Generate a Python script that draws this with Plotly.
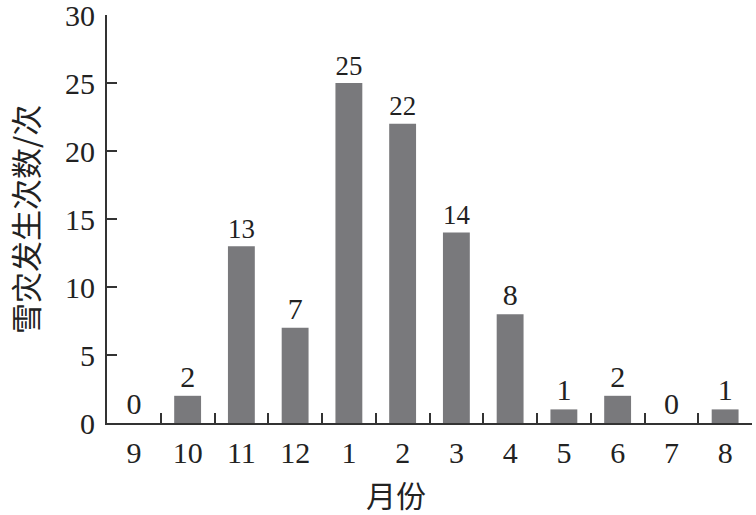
import plotly.graph_objects as go

months = ["9", "10", "11", "12", "1", "2", "3", "4", "5", "6", "7", "8"]
counts = [0, 2, 13, 7, 25, 22, 14, 8, 1, 2, 0, 1]
y_ticks = [0, 5, 10, 15, 20, 25, 30]

serif = "Liberation Serif, Times New Roman, serif"
cjk = "Noto Sans CJK SC"

fig = go.Figure(go.Bar(
    x=months, y=counts,
    marker=dict(color="#79797c", line=dict(width=0)),
    width=0.5,
    text=[str(v) for v in counts],
    textposition="outside",
    textfont=dict(family=serif, size=30, color="#222"),
    cliponaxis=False,
))

W, H = 756, 515
L, R, T, B = 107, 4, 15, 92
pw, ph = W - L - R, H - T - B

fig.update_layout(
    width=W, height=H,
    margin=dict(l=L, r=R, t=T, b=B),
    plot_bgcolor="white", paper_bgcolor="white",
    showlegend=False,
    xaxis=dict(
        type="category", range=[-0.5, 11.5], automargin=False,
        showline=True, linecolor="#333", linewidth=2,
        ticks="inside", tickson="boundaries", ticklen=10, tickwidth=2, tickcolor="#333",
        tickfont=dict(family=serif, size=30, color="#222"),
        ticklabelstandoff=2,
        showgrid=False, zeroline=False,
    ),
    yaxis=dict(
        range=[0, 30], tickvals=y_ticks, automargin=False,
        showline=True, linecolor="#333", linewidth=2,
        ticks="inside", ticklen=10, tickwidth=2, tickcolor="#333",
        tickfont=dict(family=serif, size=30, color="#222"),
        ticklabelstandoff=4, ticklabeloverflow="allow",
        showgrid=False, zeroline=False,
    ),
    annotations=[
        dict(text="月份", xref="paper", yref="paper",
             x=(396 - L) / pw, y=-(494 - (T + ph)) / ph,
             xanchor="center", yanchor="middle", showarrow=False,
             font=dict(family=cjk, size=30, color="#222")),
        dict(text="雪灾发生次数/次", xref="paper", yref="paper",
             x=(24 - L) / pw, y=0.5, textangle=-90,
             xanchor="center", yanchor="middle", showarrow=False,
             font=dict(family=cjk, size=31, color="#222")),
    ],
)

fig.write_html(
    "out.html",
    config={"displayModeBar": False},
    post_script="document.body.style.margin='0';document.body.style.overflow='hidden';",
)
